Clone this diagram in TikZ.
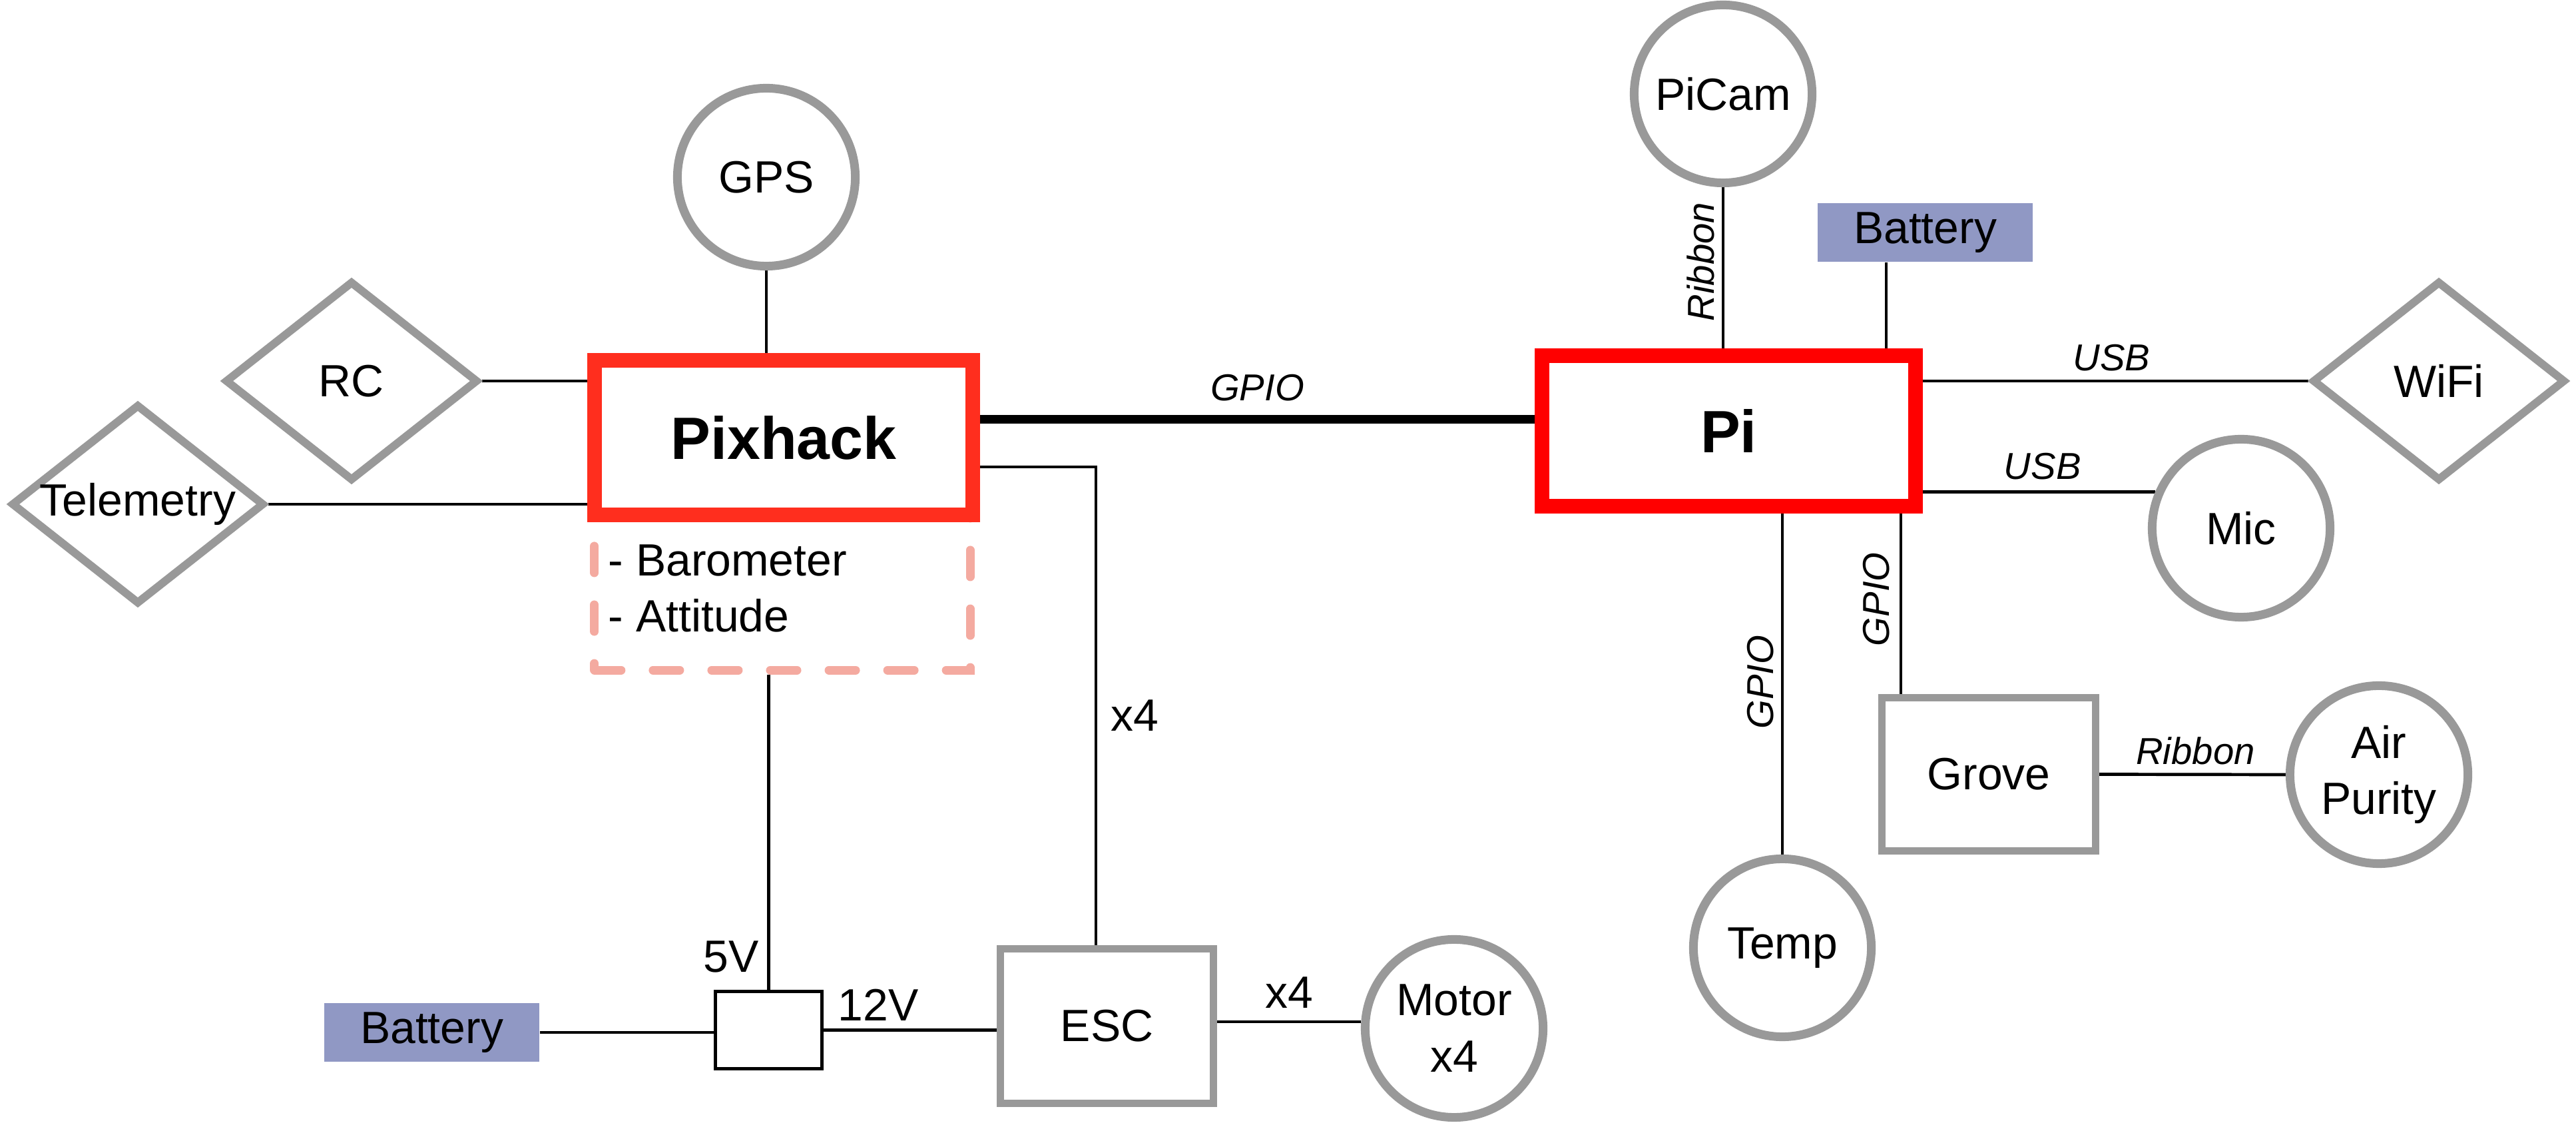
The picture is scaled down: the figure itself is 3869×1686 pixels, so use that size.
\documentclass[tikz,border=0pt]{standalone}
\usepackage{fontspec}
\setmainfont{Liberation Sans}
\usetikzlibrary{shapes.geometric,backgrounds}
\definecolor{gr}{RGB}{153,153,153}
\definecolor{pixred}{RGB}{255,46,30}
\definecolor{pired}{RGB}{255,0,0}
\definecolor{salmon}{RGB}{244,170,160}
\definecolor{batc}{RGB}{144,152,196}
\newcommand\fnorm{\fontsize{19.3}{24.1}\selectfont}
\newcommand\fbig{\fontsize{25.5}{30}\selectfont\bfseries}
\newcommand\fital{\fontsize{16}{19}\selectfont\itshape}
\begin{document}
\begin{tikzpicture}[x=0.01cm, y=-0.01cm,
  circ/.style={circle, draw=gr, line width=0.13cm, minimum size=2.67cm, inner sep=0pt, fill=white, font=\fnorm, align=center},
  dia/.style={diamond, draw=gr, line width=0.12cm, minimum width=3.8cm, minimum height=3.0cm, inner sep=0pt, fill=white, font=\fnorm},
  gbox/.style={rectangle, draw=gr, line width=0.11cm, inner sep=0pt, fill=white, font=\fnorm},
  mainbox/.style={rectangle, line width=0.215cm, inner sep=0pt, fill=white, font=\fbig},
  bat/.style={rectangle, fill=batc, minimum width=3.23cm, minimum height=0.88cm, inner sep=0pt, font=\fnorm},
  wire/.style={line width=0.047cm},
  lab/.style={font=\fital, inner sep=0pt},
  txt/.style={font=\fnorm, inner sep=0pt},
  sensbox/.style={rectangle, draw=salmon, line width=0.13cm, dash pattern=on 0.4cm off 0.48cm, line cap=round, inner sep=0pt}
]
\useasboundingbox (0,0) rectangle (3869,1686);

% ---- left side nodes
\node[sensbox, minimum width=5.64cm, minimum height=2.33cm] (sens) at (1175,889.5) {};
\node[mainbox, draw=pixred, minimum width=5.68cm, minimum height=2.32cm] (pix) at (1177,657) {Pixhack};
\node[txt, anchor=base west] (baro) at (913,865) {- Barometer};
\node[txt, anchor=base west] (att) at (913,949) {- Attitude};
\node[circ] (gps) at (1151,266) {GPS};
\node[dia] (rc) at (528,572) {RC};
\node[dia] (tel) at (207,757) {\makebox[0pt]{Telemetry}};
\node[bat] (batL) at (648.5,1550) {Battery};
\node[rectangle, draw, line width=0.05cm, minimum width=1.6cm, minimum height=1.16cm, inner sep=0pt, fill=white] (vbox) at (1154.5,1546.5) {};
\node[gbox, minimum width=3.2cm, minimum height=2.32cm] (esc) at (1662.5,1540.5) {ESC};
\node[circ] (mot) at (2184,1544) {Motor\\x4};
\node[txt, anchor=base east] (l5v) at (1140,1459) {5V};
\node[txt, anchor=base west] (l12v) at (1258,1532) {12V};
\node[txt, anchor=base west] (lx4a) at (1668,1098) {x4};

% ---- right side nodes
\node[mainbox, draw=pired, minimum width=5.61cm, minimum height=2.26cm] (pi) at (2596.5,647) {Pi};
\node[circ] (picam) at (2588,141) {PiCam};
\node[bat] (batR) at (2891.5,349) {Battery};
\node[dia] (wifi) at (3663,572) {WiFi};
\node[circ] (mic) at (3366,793) {Mic};
\node[circ] (temp) at (2677,1423) {Temp};
\node[gbox, minimum width=3.21cm, minimum height=2.3cm] (grove) at (2987,1162.5) {Grove};
\node[circ] (air) at (3573,1163) {Air\\Purity};

\coordinate (gpioy) at (0,630);
\coordinate (escc) at (1646,701);
\coordinate (batx) at (2833,0);
\coordinate (grvx) at (2855,0);
\coordinate (esmy) at (0,1534);

\begin{scope}[on background layer]
\draw[wire] (gps.south) -- (gps.south |- pix.north);
\draw[wire] (rc.east) -- (rc.east -| pix.west);
\draw[wire] (tel.east) -- (tel.east -| pix.west);
\draw[line width=0.13cm] (pix.east |- gpioy) -- node[lab, above=0.21cm, pos=0.5] (lgpio) {GPIO} (pi.west |- gpioy);
\draw[wire] (pix.east |- escc) -- (escc) -- (escc |- esc.north);
\draw[wire] (vbox.north |- sens.south) -- (vbox.north);
\draw[wire] (batL.east) -- (batL.east -| vbox.west);
\draw[wire] (vbox.east) -- (vbox.east -| esc.west);
\draw[wire] (esc.east |- esmy) -- node[txt, above=0.18cm] (lx4b) {x4} (mot.west |- esmy);

\draw[wire] (picam.south |- pi.north) -- node[lab, sloped, above=0.11cm, pos=0.537] (lrib1) {Ribbon} (picam.south);
\draw[wire] (batx |- batR.south) -- (batx |- pi.north);
\draw[wire] (pi.east |- wifi.west) -- node[lab, above=0.13cm, pos=0.49] (lusb1) {USB} (wifi.west);
\draw[wire] (mic.157.5 -| pi.east) -- node[lab, above=0.16cm, pos=0.515] (lusb2) {USB} (mic.157.5);
\draw[wire] (temp.north) -- node[lab, sloped, above=0.11cm, pos=0.505] (lgp2) {GPIO} (temp.north |- pi.south);
\draw[wire] (grvx |- grove.north) -- node[lab, sloped, above=0.15cm, pos=0.524] (lgp3) {GPIO} (grvx |- pi.south);
\draw[wire] (grove.east) -- node[lab, above=0.12cm, pos=0.516] (lrib2) {Ribbon} (air.west);
\end{scope}
\end{tikzpicture}
\end{document}
